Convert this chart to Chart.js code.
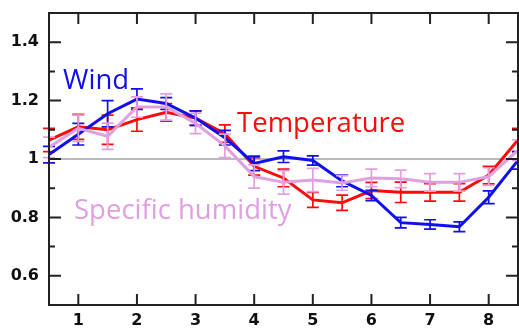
<!DOCTYPE html>
<html>
<head>
<meta charset="utf-8">
<script src="https://cdn.jsdelivr.net/npm/chart.js@4"></script>
<style>
	html, body { margin: 0; padding: 0; background: #fff; }
	#wrap { position: relative; width: 519px; height: 329px; }
</style>
</head>
<body>
<div id="wrap"><canvas id="c"></canvas></div>
<script>
// values
let xs = [0.5, 1, 1.5, 2, 2.5, 3, 3.5, 4, 4.5, 5, 5.5, 6, 6.5, 7, 7.5, 8, 8.5];

let wind = [1.015, 1.085, 1.155, 1.205, 1.19, 1.14, 1.073, 0.985, 1.008, 0.995, 0.925, 0.875, 0.782, 0.776, 0.768, 0.869, 0.995];
let windErr = [0.028, 0.037, 0.045, 0.035, 0.02, 0.025, 0.025, 0.025, 0.02, 0.016, 0.02, 0.018, 0.018, 0.016, 0.017, 0.022, 0.03];

let temperature = [1.065, 1.11, 1.1, 1.135, 1.16, 1.14, 1.087, 0.975, 0.935, 0.86, 0.85, 0.892, 0.886, 0.886, 0.886, 0.945, 1.065];
let temperatureErr = [0.04, 0.043, 0.05, 0.04, 0.03, 0.025, 0.03, 0.03, 0.03, 0.026, 0.026, 0.028, 0.035, 0.03, 0.03, 0.03, 0.04];

let humidity = [1.04, 1.105, 1.078, 1.178, 1.178, 1.122, 1.045, 0.94, 0.92, 0.928, 0.918, 0.935, 0.932, 0.92, 0.92, 0.94, 1.03];
let humidityErr = [0.035, 0.045, 0.045, 0.035, 0.045, 0.035, 0.04, 0.04, 0.04, 0.04, 0.025, 0.03, 0.03, 0.03, 0.03, 0.03, 0.035];

let xTicks = [1, 2, 3, 4, 5, 6, 7, 8];
let yTicks = [0.6, 0.8, 1, 1.2, 1.4];
let yTickLabels = ['0.6', '0.8', '1', '1.2', '1.4'];
let yMinorTicks = [0.7, 0.9, 1.1, 1.3];
let refLine = 1;

// series names, placed in data coordinates
let seriesLabels = ['Wind', 'Temperature', 'Specific humidity'];
let labelAnchors = [[0.74, 1.241], [3.708, 1.092], [0.927, 0.795]];

let blue = '#1010ee';
let red = '#ff0a0a';
let pink = '#e0a0e0';

function points(values) {
	return xs.map((x, i) => ({x, y: values[i]}));
}

let errors = [humidityErr, windErr, temperatureErr];

let errorBars = {
	id: 'errorBars',
	afterDatasetDraw(chart, args) {
		let {ctx, scales: {x, y}} = chart;
		let ds = chart.data.datasets[args.index];
		let err = errors[args.index];
		ctx.save();
		ctx.strokeStyle = ds.borderColor;
		ctx.lineWidth = 1.7;
		ds.data.forEach((p, i) => {
			let px = x.getPixelForValue(p.x);
			let top = y.getPixelForValue(p.y + err[i]);
			let bottom = y.getPixelForValue(p.y - err[i]);
			ctx.beginPath();
			ctx.moveTo(px, top);
			ctx.lineTo(px, bottom);
			ctx.moveTo(px - 6, top);
			ctx.lineTo(px + 6, top);
			ctx.moveTo(px - 6, bottom);
			ctx.lineTo(px + 6, bottom);
			ctx.stroke();
		});
		ctx.restore();
	},
};

let frame = {
	id: 'frame',
	beforeDatasetsDraw(chart) {
		let {ctx, chartArea: a, scales: {y}} = chart;
		let py = y.getPixelForValue(refLine);
		ctx.save();
		ctx.strokeStyle = '#777';
		ctx.lineWidth = 1;
		ctx.beginPath();
		ctx.moveTo(a.left, py);
		ctx.lineTo(a.right, py);
		ctx.stroke();
		ctx.restore();
	},
	afterDraw(chart) {
		let {ctx, chartArea: a, scales: {x, y}} = chart;
		ctx.save();
		ctx.strokeStyle = '#222';
		ctx.lineWidth = 2;
		ctx.strokeRect(a.left, a.top, a.right - a.left, a.bottom - a.top);
		ctx.beginPath();
		xTicks.forEach((v) => {
			let px = x.getPixelForValue(v);
			ctx.moveTo(px, a.bottom);
			ctx.lineTo(px, a.bottom - 11);
			ctx.moveTo(px, a.top);
			ctx.lineTo(px, a.top + 11);
		});
		yTicks.forEach((v) => {
			let py = y.getPixelForValue(v);
			ctx.moveTo(a.left, py);
			ctx.lineTo(a.left + 12, py);
			ctx.moveTo(a.right, py);
			ctx.lineTo(a.right - 12, py);
		});
		yMinorTicks.forEach((v) => {
			let py = y.getPixelForValue(v);
			ctx.moveTo(a.left, py);
			ctx.lineTo(a.left + 6, py);
			ctx.moveTo(a.right, py);
			ctx.lineTo(a.right - 6, py);
		});
		ctx.stroke();

		ctx.font = '27.5px "Open Sans"';
		ctx.textBaseline = 'alphabetic';
		let colors = [blue, red, pink];
		seriesLabels.forEach((text, i) => {
			ctx.fillStyle = colors[i];
			ctx.fillText(text, x.getPixelForValue(labelAnchors[i][0]), y.getPixelForValue(labelAnchors[i][1]));
		});
		ctx.restore();
	},
};

let line = (label, values, color) => ({
	label,
	data: points(values),
	borderColor: color,
	backgroundColor: color,
	borderWidth: 3,
	pointRadius: 0,
	tension: 0,
});

let tickFont = {family: 'DejaVu Sans', size: 16, weight: 'bold'};

new Chart(document.getElementById('c'), {
	type: 'line',
	data: {
		datasets: [
			line('Specific humidity', humidity, pink),
			line('Wind', wind, blue),
			line('Temperature', temperature, red),
		],
	},
	options: {
		responsive: true,
		maintainAspectRatio: false,
		animation: false,
		events: [],
		layout: {padding: {left: 0, right: 1, top: 13, bottom: 0}},
		plugins: {legend: {display: false}, tooltip: {enabled: false}},
		scales: {
			x: {
				type: 'linear',
				min: 0.5,
				max: 8.5,
				grid: {display: false, drawTicks: false},
				border: {display: false},
				afterBuildTicks(scale) {
					scale.ticks = xTicks.map((value) => ({value}));
				},
				afterFit(scale) {
					scale.height = 24;
					scale.paddingLeft = 0;
					scale.paddingRight = 0;
				},
				ticks: {
					color: '#111',
					padding: 6,
					font: tickFont,
					callback: (v) => String(v),
				},
			},
			y: {
				type: 'linear',
				min: 0.5,
				max: 1.5,
				grid: {display: false, drawTicks: false},
				border: {display: false},
				afterBuildTicks(scale) {
					scale.ticks = yTicks.map((value) => ({value}));
				},
				afterFit(scale) {
					scale.width = 49;
					scale.paddingTop = 0;
					scale.paddingBottom = 0;
				},
				ticks: {
					color: '#111',
					padding: 10,
					font: tickFont,
					callback: (v) => yTickLabels[yTicks.indexOf(v)],
				},
			},
		},
	},
	plugins: [frame, errorBars],
});
</script>
</body>
</html>
